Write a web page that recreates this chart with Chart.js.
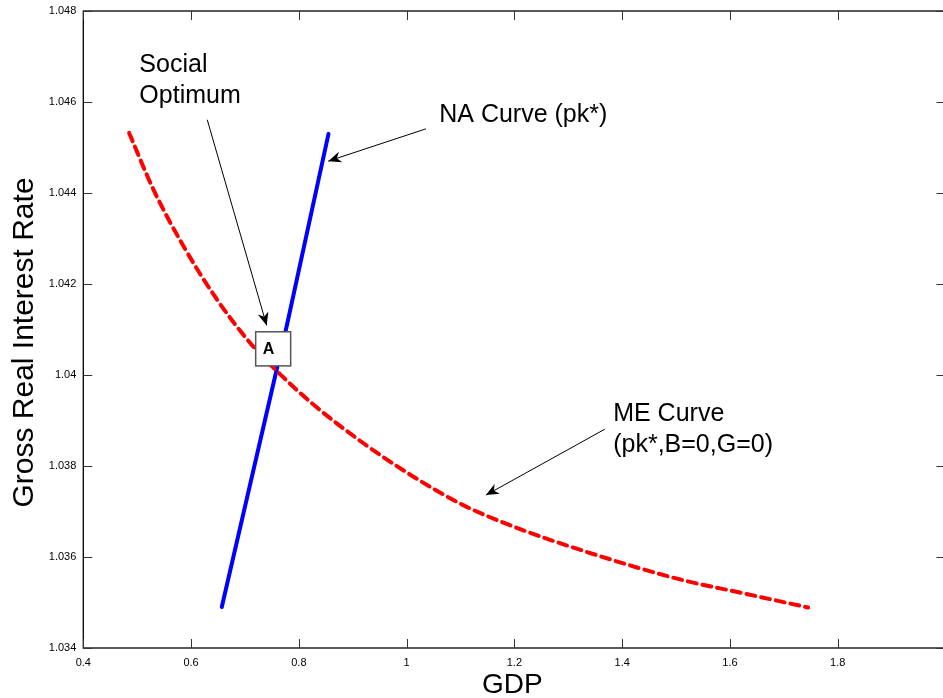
<!DOCTYPE html>
<html>
<head>
<meta charset="utf-8">
<script src="https://cdn.jsdelivr.net/npm/chart.js"></script>
<style>
  html, body { margin: 0; padding: 0; background: #fff; overflow: hidden; }
  #wrap { width: 952px; height: 698px; }
</style>
</head>
<body>
<div id="wrap"><canvas id="myChart" width="952" height="698"></canvas></div>
<script>
// ME curve (pk*, B=0, G=0)
var meX = [0.485, 0.53, 0.586, 0.648, 0.715, 0.765, 0.827, 0.92, 1.012, 1.105, 1.198, 1.353, 1.513, 1.618, 1.745]
var meY = [1.04532, 1.04408, 1.04283, 1.04166, 1.04063, 1.04002, 1.03935, 1.0385, 1.03777, 1.03714, 1.03667, 1.03604, 1.03549, 1.03522, 1.03489]

// NA curve (pk*)
var naX = [0.657, 0.7774, 0.855]
var naY = [1.0349, 1.04107, 1.0453]

// axis ticks
var xTickValues = [0.4, 0.6, 0.8, 1, 1.2, 1.4, 1.6, 1.8, 2]
var xTickLabels = ['0.4', '0.6', '0.8', '1', '1.2', '1.4', '1.6', '1.8', '2']
var yTickValues = [1.034, 1.036, 1.038, 1.04, 1.042, 1.044, 1.046, 1.048]
var yTickLabels = ['1.034', '1.036', '1.038', '1.04', '1.042', '1.044', '1.046', '1.048']

var xTitle = 'GDP'
var yTitle = 'Gross Real Interest Rate'

var FONT = '"Liberation Sans", Arial, sans-serif'

// text notes and arrows, in data units
var notes = [
  {lines: ['Social', 'Optimum'], x: 0.504, y: 1.04666, step: 31},
  {lines: ['NA Curve (pk*)'], x: 1.0605, y: 1.04555, step: 31},
  {lines: ['ME Curve', '(pk*,B=0,G=0)'], x: 1.3833, y: 1.0390, step: 31}
]
var arrows = [
  {from: [0.630, 1.04561], to: [0.7403, 1.04109]},
  {from: [1.0358, 1.04541], to: [0.8545, 1.04470]},
  {from: [1.3679, 1.03881], to: [1.1471, 1.03736]}
]
var boxA = {x0: 0.7199, x1: 0.7848, y0: 1.04095, y1: 1.04020, label: 'A'}

function toPoints(xs, ys) {
  return xs.map(function (v, i) { return {x: v, y: ys[i]} })
}

function drawArrow(ctx, x1, y1, x2, y2) {
  ctx.beginPath()
  ctx.moveTo(x1, y1)
  ctx.lineTo(x2, y2)
  ctx.stroke()
  var ang = Math.atan2(y2 - y1, x2 - x1)
  var dx = Math.cos(ang), dy = Math.sin(ang)
  var len = 13, w = 5.5
  var bx = x2 - dx * len, by = y2 - dy * len
  ctx.beginPath()
  ctx.moveTo(x2, y2)
  ctx.lineTo(bx - dy * w, by + dx * w)
  ctx.lineTo(x2 - dx * len * 0.7, y2 - dy * len * 0.7)
  ctx.lineTo(bx + dy * w, by - dx * w)
  ctx.closePath()
  ctx.fill()
}

// frame, inward ticks, titles and notes on top of the lines
var extras = {
  id: 'extras',
  afterDatasetsDraw: function (chart) {
    var ctx = chart.ctx, a = chart.chartArea
    var xs = chart.scales.x, ys = chart.scales.y
    ctx.save()

    ctx.strokeStyle = '#000'
    ctx.lineWidth = 1.3
    ctx.strokeRect(a.left, a.top, a.right - a.left, a.bottom - a.top)

    ctx.lineWidth = 1
    ctx.strokeStyle = '#333'
    ctx.beginPath()
    xTickValues.forEach(function (v) {
      var px = Math.round(xs.getPixelForValue(v)) + 0.5
      ctx.moveTo(px, a.bottom); ctx.lineTo(px, a.bottom - 9)
      ctx.moveTo(px, a.top); ctx.lineTo(px, a.top + 9)
    })
    yTickValues.forEach(function (v) {
      var py = Math.round(ys.getPixelForValue(v)) + 0.5
      ctx.moveTo(a.left, py); ctx.lineTo(a.left + 9, py)
      ctx.moveTo(a.right, py); ctx.lineTo(a.right - 9, py)
    })
    ctx.stroke()

    // axis titles
    ctx.fillStyle = '#000'
    ctx.textAlign = 'center'
    ctx.textBaseline = 'alphabetic'
    ctx.font = '28px ' + FONT
    ctx.fillText(xTitle, (a.left + a.right) / 2 - 2, 693)
    ctx.save()
    ctx.translate(a.left - 50, (a.top + a.bottom) / 2 + 13)
    ctx.rotate(-Math.PI / 2)
    ctx.font = '30px ' + FONT
    ctx.fillText(yTitle, 0, 0)
    ctx.restore()

    // notes
    ctx.textAlign = 'left'
    ctx.font = '25px ' + FONT
    notes.forEach(function (n) {
      var px = xs.getPixelForValue(n.x), py = ys.getPixelForValue(n.y)
      n.lines.forEach(function (t, i) { ctx.fillText(t, px, py + i * n.step) })
    })

    // arrows
    ctx.strokeStyle = '#000'
    ctx.fillStyle = '#000'
    ctx.lineWidth = 1
    arrows.forEach(function (r) {
      drawArrow(ctx,
        xs.getPixelForValue(r.from[0]), ys.getPixelForValue(r.from[1]),
        xs.getPixelForValue(r.to[0]), ys.getPixelForValue(r.to[1]))
    })

    // box A over the crossing
    var bx0 = xs.getPixelForValue(boxA.x0), bx1 = xs.getPixelForValue(boxA.x1)
    var by0 = ys.getPixelForValue(boxA.y0), by1 = ys.getPixelForValue(boxA.y1)
    ctx.fillStyle = '#fff'
    ctx.fillRect(bx0, by0, bx1 - bx0, by1 - by0)
    ctx.strokeStyle = '#555'
    ctx.lineWidth = 1.5
    ctx.strokeRect(bx0, by0, bx1 - bx0, by1 - by0)
    ctx.fillStyle = '#000'
    ctx.font = 'bold 16px ' + FONT
    ctx.fillText(boxA.label, bx0 + 7, by1 - 12)

    ctx.restore()
  }
}

var mychart = document.getElementById('myChart').getContext('2d')

var chart = new Chart(mychart, {
  type: 'scatter',
  data: {
    datasets: [{
      label: 'ME Curve',
      data: toPoints(meX, meY),
      showLine: true,
      borderColor: '#ff0000',
      borderWidth: 4,
      borderDash: [9, 6],
      borderCapStyle: 'round',
      cubicInterpolationMode: 'monotone',
      pointRadius: 0
    },
    {
      label: 'NA Curve',
      data: toPoints(naX, naY),
      showLine: true,
      borderColor: '#0000ff',
      borderWidth: 4,
      borderCapStyle: 'round',
      pointRadius: 0
    }]
  },
  options: {
    responsive: false,
    animation: false,
    layout: {padding: {top: 11, right: 6.5, left: 0, bottom: 0}},
    plugins: {legend: {display: false}, tooltip: {enabled: false}},
    scales: {
      x: {
        type: 'linear',
        min: 0.4,
        max: 2,
        grid: {display: false, drawTicks: false},
        border: {display: false},
        afterBuildTicks: function (s) { s.ticks = xTickValues.map(function (v) { return {value: v} }) },
        afterFit: function (s) { s.height = 50; s.paddingLeft = 0; s.paddingRight = 0 },
        ticks: {
          padding: 8,
          color: '#000',
          font: {family: FONT, size: 11},
          maxRotation: 0,
          autoSkip: false,
          callback: function (v, i) { return xTickLabels[i] }
        }
      },
      y: {
        type: 'linear',
        min: 1.034,
        max: 1.048,
        grid: {display: false, drawTicks: false},
        border: {display: false},
        afterBuildTicks: function (s) { s.ticks = yTickValues.map(function (v) { return {value: v} }) },
        afterFit: function (s) { s.width = 83.3; s.paddingTop = 0; s.paddingBottom = 0 },
        ticks: {
          padding: 7,
          color: '#000',
          font: {family: FONT, size: 11},
          autoSkip: false,
          callback: function (v, i) { return yTickLabels[i] }
        }
      }
    }
  },
  plugins: [extras]
})
</script>
</body>
</html>
